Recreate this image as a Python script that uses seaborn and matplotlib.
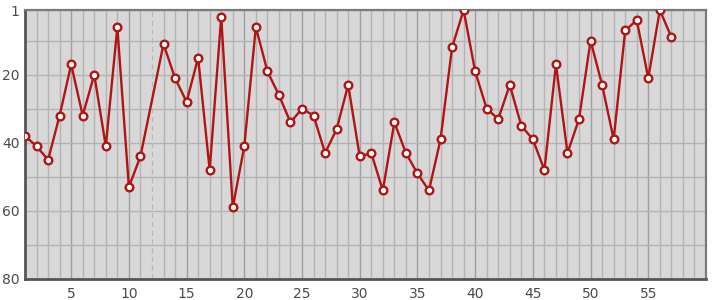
import matplotlib
matplotlib.use("Agg")
import matplotlib.pyplot as plt
import seaborn as sns
import pandas as pd

x_pos = [1, 2, 3, 4, 5, 6, 7, 8, 9, 10, 11, 13, 14, 15, 16, 17, 18, 19, 20,
         21, 22, 23, 24, 25, 26, 27, 28, 29, 30, 31, 32, 33, 34, 35, 36, 37, 38, 39, 40,
         41, 42, 43, 44, 45, 46, 47, 48, 49, 50, 51, 52, 53, 54, 55, 56, 57]
rank = [38, 41, 45, 32, 17, 32, 20, 41, 6, 53, 44, 11, 21, 28, 15, 48, 3, 59, 41,
        6, 19, 26, 34, 30, 32, 43, 36, 23, 44, 43, 54, 34, 43, 49, 54, 39, 12, 1, 19,
        30, 33, 23, 35, 39, 48, 17, 43, 33, 10, 23, 39, 7, 4, 21, 1, 9]
missing_x = [12]
x_ticks = [5, 10, 15, 20, 25, 30, 35, 40, 45, 50, 55]
y_ticks = [1, 20, 40, 60, 80]

df = pd.DataFrame({"x": x_pos, "rank": rank})

sns.set_theme(style="white")
plt.rcParams['font.family'] = ['DejaVu Sans']

fig = plt.figure(figsize=(7.15, 3.0), dpi=100)
ax = fig.add_axes([25 / 715, 1 - 279 / 300, (706 - 25) / 715, (279 - 10) / 300])
ax.set_facecolor("#d8d8d8")

line_color = "#b01515"
sns.lineplot(data=df, x="x", y="rank", ax=ax, color=line_color, linewidth=1.7,
             marker="o", markersize=5.5, markerfacecolor="white",
             markeredgecolor=line_color, markeredgewidth=1.7, zorder=5)

for mx in missing_x:
    ax.axvline(mx, color="#b8b8b8", linestyle=(0, (4, 3)), linewidth=0.9, zorder=2)

ax.set_xlim(1, 60)
ax.set_ylim(80, 1)
ax.set_xticks(x_ticks)
ax.set_xticks([v for v in range(1, 60) if v % 5 != 0 and v not in missing_x], minor=True)
ax.set_yticks(y_ticks)
ax.set_yticks([10, 30, 50, 70], minor=True)

ax.grid(which="major", axis="x", color="#9e9e9e", linewidth=1.0, zorder=1)
ax.grid(which="minor", axis="x", color="#b4b4b4", linewidth=1.0, zorder=1)
ax.grid(which="both", axis="y", color="#b4b4b4", linewidth=1.0, zorder=1)
ax.set_axisbelow(True)

ax.tick_params(axis="both", which="both", length=0, labelsize=10, labelcolor="#4a4a4a")
ax.tick_params(axis="x", pad=6)
ax.tick_params(axis="y", pad=4)
ax.set_xlabel("")
ax.set_ylabel("")

for s in ax.spines.values():
    s.set_visible(True)
    s.set_color("#7a7a7a")
    s.set_linewidth(1.6)
ax.spines["left"].set_color("#555555")
ax.spines["left"].set_linewidth(2)
ax.spines["bottom"].set_color("#555555")
ax.spines["bottom"].set_linewidth(2)

fig.savefig("out.png", dpi=100)
